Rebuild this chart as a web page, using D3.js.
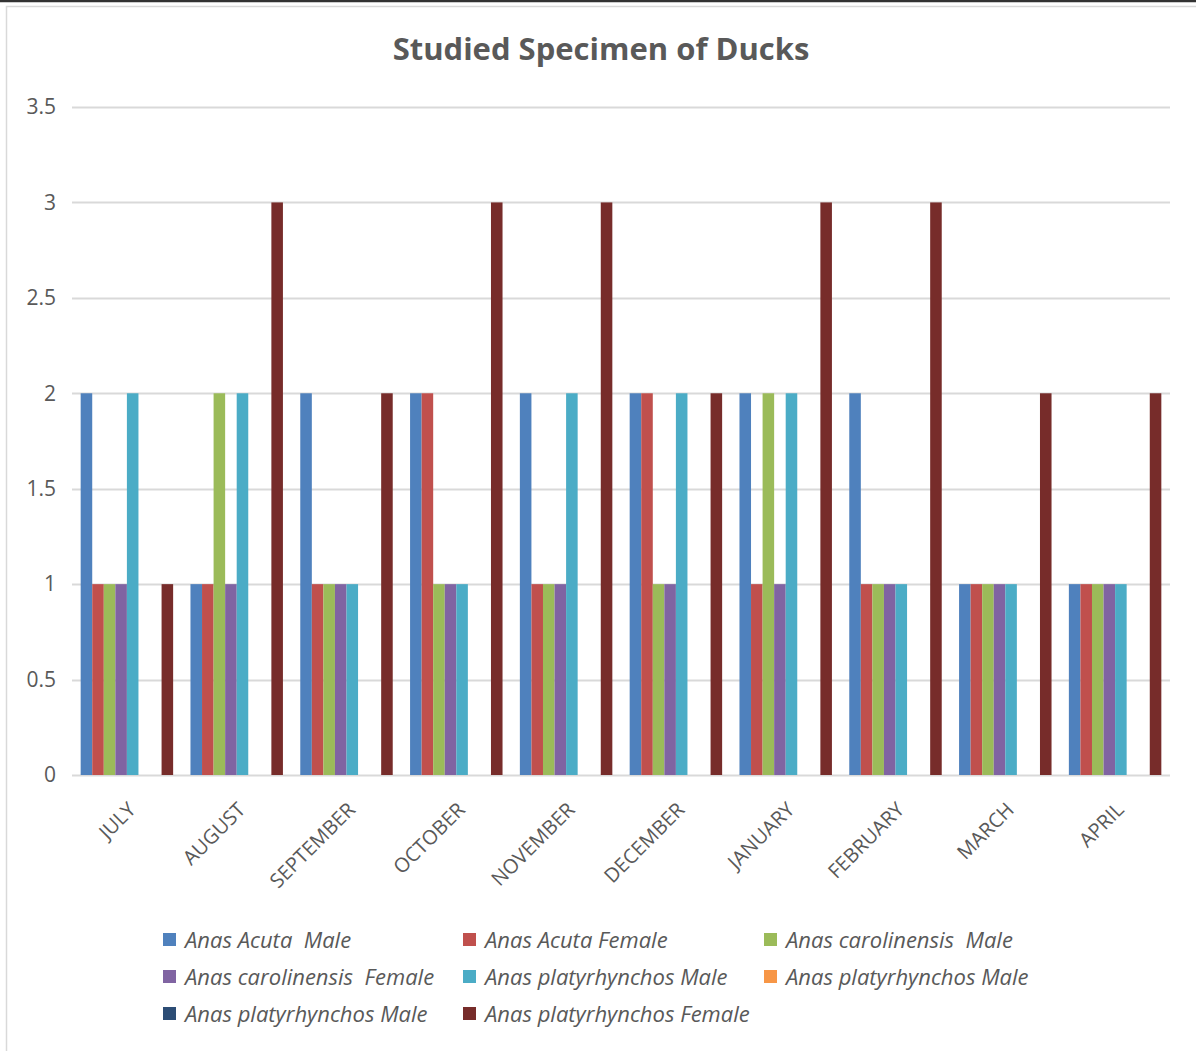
<!DOCTYPE html>
<html>
<head>
<meta charset="utf-8">
<script src="https://cdn.jsdelivr.net/npm/d3@7"></script>
<style>
  body { margin: 0; background: #fff; }
  svg { display: block; }
</style>
</head>
<body>
<svg id="chart" width="1196" height="1051"></svg>
<script>
var months = ["JULY", "AUGUST", "SEPTEMBER", "OCTOBER", "NOVEMBER", "DECEMBER",
  "JANUARY", "FEBRUARY", "MARCH", "APRIL"];

var seriesNames = ["Anas Acuta  Male", "Anas Acuta Female", "Anas carolinensis  Male",
  "Anas carolinensis  Female", "Anas platyrhynchos Male", "Anas platyrhynchos Male",
  "Anas platyrhynchos Male", "Anas platyrhynchos Female"];

var seriesColors = ["#4f81bd", "#c0504d", "#9bbb59", "#8064a2", "#4bacc6", "#f79646",
  "#2c4d75", "#772c2a"];

// one array per series, month order as above
var acutaMale      = [2, 1, 2, 2, 2, 2, 2, 2, 1, 1];
var acutaFemale    = [1, 1, 1, 2, 1, 2, 1, 1, 1, 1];
var caroMale       = [1, 2, 1, 1, 1, 1, 2, 1, 1, 1];
var caroFemale     = [1, 1, 1, 1, 1, 1, 1, 1, 1, 1];
var platyMale      = [2, 2, 1, 1, 2, 2, 2, 1, 1, 1];
var platyMale2     = [0, 0, 0, 0, 0, 0, 0, 0, 0, 0];
var platyMale3     = [0, 0, 0, 0, 0, 0, 0, 0, 0, 0];
var platyFemale    = [1, 3, 2, 3, 3, 2, 3, 3, 2, 2];

var seriesValues = [acutaMale, acutaFemale, caroMale, caroFemale, platyMale,
  platyMale2, platyMale3, platyFemale];

var yTicks = [0, 0.5, 1, 1.5, 2, 2.5, 3, 3.5];

var svg = d3.select("#chart");
var textColor = "#595959";
var font = "Open Sans, 'Noto Sans', sans-serif";

// frame
svg.append("line").attr("x1", 0).attr("x2", 1196).attr("y1", 1).attr("y2", 1)
  .style("stroke", "#333").style("stroke-width", 2.5);
svg.append("rect").attr("x", 6.5).attr("y", 6.5).attr("width", 1200).attr("height", 1060)
  .style("fill", "none").style("stroke", "#d9d9d9").style("stroke-width", 1.5);

var plotLeft = 72, plotRight = 1170, plotTop = 107, plotBottom = 775;

var x0 = d3.scaleBand().domain(months).range([plotLeft, plotRight]).padding(0);
// gap width 150%: 0.75 bar on each side of a group
var x1 = d3.scaleBand().domain(d3.range(seriesNames.length))
  .range([0, x0.bandwidth()]).paddingInner(0).paddingOuter(0.75);
var y = d3.scaleLinear().domain([0, 3.5]).range([plotBottom, plotTop]);

// title
svg.append("text")
  .attr("x", 601).attr("y", 60)
  .style("text-anchor", "middle")
  .style("font-family", font)
  .style("font-weight", 700)
  .style("font-size", "31px")
  .style("fill", textColor)
  .text("Studied Specimen of Ducks");

// grid lines
svg.append("g").selectAll("line").data(yTicks).join("line")
  .attr("x1", plotLeft).attr("x2", plotRight)
  .attr("y1", function(d) { return Math.round(y(d)) + 0.5; })
  .attr("y2", function(d) { return Math.round(y(d)) + 0.5; })
  .style("stroke", "#d9d9d9").style("stroke-width", 2);

// y labels
svg.append("g").selectAll("text").data(yTicks).join("text")
  .attr("x", 56).attr("y", function(d) { return y(d); })
  .attr("dy", "0.35em")
  .style("text-anchor", "end")
  .style("font-family", font)
  .style("font-size", "21px")
  .style("fill", textColor)
  .text(function(d) { return d; });

// bars
var groups = svg.append("g").selectAll("g").data(months).join("g")
  .attr("transform", function(d) { return `translate(${x0(d)},0)`; });

groups.selectAll("rect")
  .data(function(m, i) {
    return seriesValues.map(function(vals, s) { return { s: s, v: vals[i] }; });
  })
  .join("rect")
  .attr("x", function(d) { return x1(d.s); })
  .attr("width", x1.bandwidth())
  .attr("y", function(d) { return y(d.v); })
  .attr("height", function(d) { return y(0) - y(d.v); })
  .style("fill", function(d) { return seriesColors[d.s]; });

// x labels
svg.append("g").selectAll("text").data(months).join("text")
  .attr("transform", function(d) {
    return `translate(${x0(d) + x0.bandwidth() / 2 + 5},${plotBottom + 31}) rotate(-45)`;
  })
  .attr("dy", "0.35em")
  .style("text-anchor", "end")
  .style("font-family", font)
  .style("font-size", "20px")
  .style("fill", textColor)
  .text(function(d) { return d; });

// legend
var legendCols = [163, 463, 764];
var legendRows = [940, 977, 1014];
var legend = svg.append("g").selectAll("g").data(seriesNames).join("g")
  .attr("transform", function(d, i) {
    return `translate(${legendCols[i % 3]},${legendRows[Math.floor(i / 3)]})`;
  });

legend.append("rect")
  .attr("x", 0).attr("y", -7).attr("width", 13).attr("height", 13)
  .style("fill", function(d, i) { return seriesColors[i]; });

legend.append("text")
  .attr("x", 22).attr("y", 0).attr("dy", "0.35em")
  .style("font-family", font)
  .style("font-style", "italic")
  .style("font-size", "22px")
  .style("fill", textColor)
  .style("white-space", "pre")
  .text(function(d) { return d; });
</script>
</body>
</html>
